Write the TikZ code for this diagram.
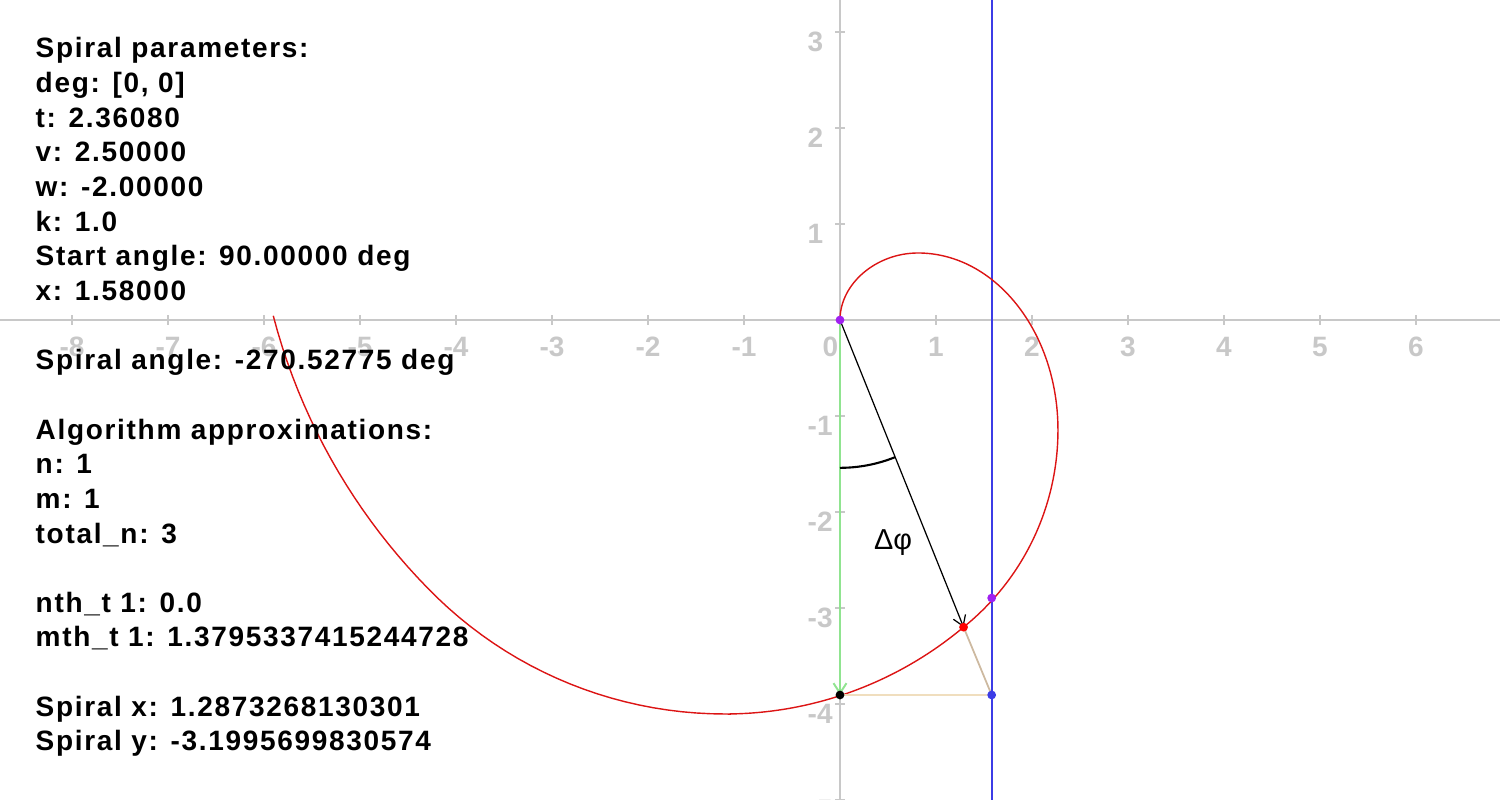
\documentclass[tikz,border=0pt]{standalone}
\usepackage{fontspec}
\setmainfont{Liberation Sans}
\newfontfamily\infofont{Liberation Sans}[LetterSpace=6]
\usetikzlibrary{arrows.meta}

\definecolor{axisgray}{RGB}{200,200,200}
\definecolor{spiralred}{RGB}{220,20,20}
\definecolor{markpurple}{RGB}{160,32,240}
\definecolor{markblue}{RGB}{60,60,230}
\definecolor{guidegreen}{RGB}{144,228,144}
\definecolor{tanline}{RGB}{205,185,160}
\definecolor{wheatline}{RGB}{240,222,190}

\begin{document}
\begin{tikzpicture}[x=0.96cm, y=0.96cm,
  axisline/.style={draw=axisgray, line width=0.57pt},
  tickmark/.style={draw=axisgray, line width=0.4pt},
  ticklabel/.style={text=axisgray, inner sep=0pt,
                    font=\fontsize{7.97}{9}\selectfont\bfseries},
  infoline/.style={anchor=base west, inner sep=0pt,
                   font=\infofont\fontsize{7.97}{9.85}\selectfont\bfseries},
  dot/.style={circle, inner sep=0pt, minimum size=0.088cm},
  arrow/.style={-{Straight Barb[length=1mm, width=1.3mm]}},
  spiral/.style={draw=spiralred, line width=0.4pt},
]
  \useasboundingbox (-8.75,-5) rectangle (6.875,3.3333);

  % axes
  \coordinate (xleft) at (-8.75,0);
  \coordinate (xright) at (6.875,0);
  \coordinate (ytop) at (0,3.3333);
  \coordinate (ybottom) at (0,-5);
  \draw[axisline] (xleft) -- (xright);
  \draw[axisline] (ybottom) -- (ytop);
  \foreach \n in {-8,-7,...,-1,1,2,...,6}
    \draw[tickmark] (\n,-0.052) -- (\n,0.052);
  \foreach \n in {-5,-4,...,-1,1,2,3}
    \draw[tickmark] (-0.052,\n) -- (0.052,\n);
  \foreach \n in {-8,-7,...,-1,1,2,...,6}
    \node[ticklabel] (xl\n) at (\n,-0.28) {\n};
  \node[ticklabel] (xl0) at (-0.1,-0.28) {0};
  \foreach \n in {-5,-4,...,-1,1,2,3}
    \node[ticklabel, anchor=west] (yl\n) at (-0.344,{\n-0.1}) {\n};

  % x = 1.58
  \coordinate (xtop) at (1.58,3.3333);
  \coordinate (xbottom) at (1.58,-5);
  \draw[markblue, line width=0.55pt] (xtop) -- (xbottom);

  \coordinate (origin) at (0,0);
  \coordinate (spiralpt) at (1.2873,-3.1996);
  \coordinate (axiscross) at (0,-3.906);
  \coordinate (xcross) at (1.593,-2.896);
  \coordinate (xfoot) at (1.58,-3.906);
  \coordinate (arcstart) at (0,-1.54);

  % spiral
  \draw[spiral] (origin) .. controls (0,0.38) and (0.38,0.6979) .. (0.8125,0.6979)
    arc[start angle=90, end angle=0, x radius=1.458, y radius=1.8438]
    arc[start angle=0, end angle=-51.18, radius=2.6361]
    arc[start angle=-50, end angle=-90, radius=3.866]
    -- plot[domain=-90:-178, samples=45, variable=\t]
      ({-1.1979+(4.3125+0.396*(max(0,-135-\t)/43)^2)*cos(\t)},
       {0.2083+(4.3125+0.396*(max(0,-135-\t)/43)^2)*sin(\t)});

  \draw[guidegreen, line width=0.55pt, arrow] (origin) -- (axiscross);
  \draw[wheatline, line width=0.45pt] (axiscross) -- (xfoot);
  \draw[tanline, line width=0.5pt] (spiralpt) -- (xfoot);
  \draw[black, line width=0.35pt, arrow] (origin) -- (spiralpt);
  \draw[black, line width=0.6pt] (arcstart)
    arc[start angle=-90, end angle=-68.08, radius=1.54];
  \node[font=\fontsize{8.2}{10}\selectfont] (dphi) at (0.552,-2.323) {Δφ};

  \node[dot, fill=markpurple] (startdot) at (origin) {};
  \node[dot, fill=markpurple] (crossdot) at (1.58,-2.896) {};
  \node[dot, fill=red] (spiraldot) at (spiralpt) {};
  \node[dot, fill=black] (axisdot) at (axiscross) {};
  \node[dot, fill=markblue] (footdot) at (xfoot) {};

  % info text
  \foreach \i/\txt in {0/{Spiral parameters:}, 1/{deg: [0, 0]},
      2/{t: 2.36080}, 3/{v: 2.50000}, 4/{w: -2.00000}, 5/{k: 1.0},
      6/{Start angle: 90.00000 deg}, 7/{x: 1.58000},
      9/{Spiral angle: -270.52775 deg},
      11/{Algorithm approximations:}, 12/{n: 1}, 13/{m: 1},
      14/{total\_n: 3}, 16/{nth\_t 1: 0.0},
      17/{mth\_t 1: 1.3795337415244728},
      19/{Spiral x: 1.2873268130301}, 20/{Spiral y: -3.1995699830574}}
    \node[infoline] (info\i) at (-8.385,{2.729-\i*0.3609}) {\txt};
\end{tikzpicture}
\end{document}
